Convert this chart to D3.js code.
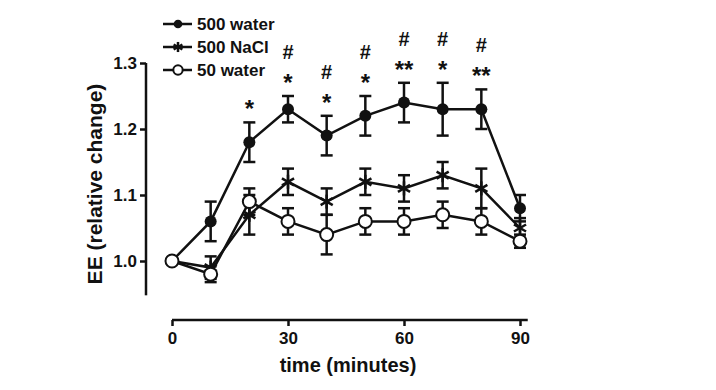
<!doctype html>
<html>
<head>
<meta charset="utf-8">
<script src="https://d3js.org/d3.v7.min.js"></script>
<style>
  body { margin: 0; background: #fff; }
  text { font-family: "Liberation Sans", Arial, sans-serif; font-weight: bold; fill: #111; }
</style>
</head>
<body>
<div id="chart"></div>
<script>
var times = [0, 10, 20, 30, 40, 50, 60, 70, 80, 90];
var water500 = [1.00, 1.06, 1.18, 1.23, 1.19, 1.22, 1.24, 1.23, 1.23, 1.08];
var water500Err = [0, 0.03, 0.03, 0.02, 0.03, 0.03, 0.03, 0.04, 0.03, 0.02];
var nacl500 = [1.00, 0.99, 1.07, 1.12, 1.09, 1.12, 1.11, 1.13, 1.11, 1.05];
var nacl500Err = [0, 0.017, 0.03, 0.02, 0.02, 0.02, 0.02, 0.02, 0.03, 0.015];
var water50 = [1.00, 0.98, 1.09, 1.06, 1.04, 1.06, 1.06, 1.07, 1.06, 1.03];
var water50Err = [0, 0.012, 0.02, 0.02, 0.03, 0.02, 0.02, 0.02, 0.02, 0.01];
var stars = ["", "", "*", "*", "*", "*", "**", "*", "**", ""];
var hashes = ["", "", "", "#", "#", "#", "#", "#", "#", ""];
var xTicks = [0, 30, 60, 90];
var yTicks = [1.0, 1.1, 1.2, 1.3];

var w = 716, h = 390;
var svg = d3.select("#chart").append("svg").attr("width", w).attr("height", h);

var x = d3.scaleLinear().domain([0, 90]).range([172, 520]);
var y = d3.scaleLinear().domain([1.0, 1.3]).range([261, 63]);

// y axis (stops a bit below 1.0)
var yAxis = svg.append("g").attr("transform", "translate(146,0)")
  .call(d3.axisLeft(y).tickValues(yTicks).tickFormat(d3.format(".1f")).tickSize(6).tickSizeOuter(0));
yAxis.select(".domain").remove();
yAxis.append("line").attr("x1", 0).attr("x2", 0).attr("y1", y(1.3)).attr("y2", y(0.948))
  .attr("stroke", "#111").attr("stroke-width", 2.5);
yAxis.selectAll(".tick line").attr("stroke", "#111").attr("stroke-width", 2.5);
yAxis.selectAll(".tick text").attr("font-size", 17).attr("x", -9).attr("fill", "#333")
  .style("font-family", "Liberation Sans, Arial, sans-serif").style("font-weight", "bold");

// x axis, detached
var xAxis = svg.append("g").attr("transform", "translate(0,320)")
  .call(d3.axisBottom(x).tickValues(xTicks).tickSize(6).tickSizeOuter(0));
xAxis.select(".domain").remove();
xAxis.append("line").attr("x1", x(0)).attr("x2", x(92)).attr("stroke", "#111").attr("stroke-width", 2.5);
xAxis.selectAll(".tick line").attr("stroke", "#111").attr("stroke-width", 2.5);
xAxis.selectAll(".tick text").attr("font-size", 17).attr("y", 12).attr("fill", "#111")
  .style("font-family", "Liberation Sans, Arial, sans-serif").style("font-weight", "bold");

svg.append("text").attr("x", 348).attr("y", 372).attr("text-anchor", "middle")
  .attr("font-size", 20).text("time (minutes)");
svg.append("text").attr("transform", "translate(102,184) rotate(-90)").attr("text-anchor", "middle")
  .attr("font-size", 21).text("EE (relative change)");

var series = [
  { name: "500 water", vals: water500, err: water500Err, type: "filled" },
  { name: "500 NaCl", vals: nacl500, err: nacl500Err, type: "star" },
  { name: "50 water", vals: water50, err: water50Err, type: "open" }
];

var line = d3.line().x(function(d, i) { return x(times[i]); }).y(function(d) { return y(d); });

function marker(g, type, cx, cy, k) {
  k = k || 1;
  if (type === "filled") {
    g.append("circle").attr("cx", cx).attr("cy", cy).attr("r", 6 * k).attr("fill", "#111");
  } else if (type === "open") {
    g.append("circle").attr("cx", cx).attr("cy", cy).attr("r", 6.5 * k).attr("fill", "#fff")
      .attr("stroke", "#111").attr("stroke-width", 2);
  } else {
    var r = 7 * k;
    [0, 60, 120].forEach(function(a) {
      var rad = a * Math.PI / 180;
      g.append("line").attr("x1", cx - r * Math.sin(rad)).attr("y1", cy - r * Math.cos(rad))
        .attr("x2", cx + r * Math.sin(rad)).attr("y2", cy + r * Math.cos(rad))
        .attr("stroke", "#111").attr("stroke-width", 2.5);
    });
  }
}

series.forEach(function(s) {
  var g = svg.append("g");
  s.vals.forEach(function(v, i) {
    if (!s.err[i]) return;
    var cx = x(times[i]), top = y(v + s.err[i]), bot = y(v - s.err[i]);
    g.append("line").attr("x1", cx).attr("x2", cx).attr("y1", top).attr("y2", bot)
      .attr("stroke", "#111").attr("stroke-width", 2.5);
    [top, bot].forEach(function(yy) {
      g.append("line").attr("x1", cx - 6).attr("x2", cx + 6).attr("y1", yy).attr("y2", yy)
        .attr("stroke", "#111").attr("stroke-width", 2.5);
    });
  });
  g.append("path").attr("d", line(s.vals)).attr("fill", "none")
    .attr("stroke", "#111").attr("stroke-width", 2.5);
});
// markers on top, open circles last
series.forEach(function(s) {
  var g = svg.append("g");
  s.vals.forEach(function(v, i) { marker(g, s.type, x(times[i]), y(v)); });
});

// significance marks above 500 water error bars
times.forEach(function(t, i) {
  var top = y(water500[i] + water500Err[i]);
  if (stars[i]) {
    svg.append("text").attr("x", x(t)).attr("y", top - 5).attr("text-anchor", "middle")
      .attr("font-size", 24).text(stars[i]);
  }
  if (hashes[i]) {
    svg.append("text").attr("x", x(t)).attr("y", top - 37).attr("text-anchor", "middle")
      .attr("font-size", 20).text(hashes[i]);
  }
});

// legend
series.forEach(function(s, i) {
  var ly = 24 + i * 23;
  var g = svg.append("g");
  g.append("line").attr("x1", 163).attr("x2", 192).attr("y1", ly).attr("y2", ly)
    .attr("stroke", "#111").attr("stroke-width", 2.5);
  marker(g, s.type, 178, ly, 0.72);
  g.append("text").attr("x", 197).attr("y", ly + 6).attr("font-size", 17).text(s.name);
});
</script>
</body>
</html>
